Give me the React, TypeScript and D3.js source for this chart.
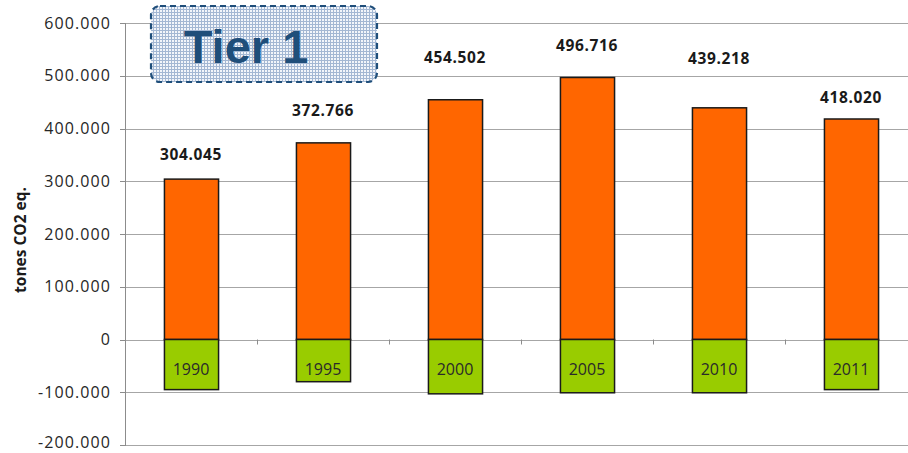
import React from "react";
import * as d3 from "d3";

const years = ["1990", "1995", "2000", "2005", "2010", "2011"];
const emissions = [304045, 372766, 454502, 496716, 439218, 418020];
const removals = [-95000, -80000, -103000, -101000, -101000, -95000];
const yTicks = [-200000, -100000, 0, 100000, 200000, 300000, 400000, 500000, 600000];
const yTitle = "tones CO2 eq.";
const badge = "Tier 1";

const W = 908;
const H = 453;
const left = 125;
const step = 132;
const top = 23;
const bottom = 445;

// manual label lifts (px between bar top and label baseline), as in the original
const labelLift = [19, 27, 37, 26, 44, 16];

const locale = d3.formatLocale({ decimal: ",", thousands: ".", grouping: [3], currency: ["", ""], minus: "-" });
const fmt = locale.format(",d");

export default function App() {
  const x = d3
    .scaleBand<string>()
    .domain(years)
    .range([left, left + step * years.length])
    .paddingInner(0.59)
    .paddingOuter(0.295);
  const y = d3.scaleLinear().domain([-200000, 600000]).range([bottom, top]);
  const y0 = y(0);
  const bw = x.bandwidth();

  return (
    <svg
      width={W}
      height={H}
      style={{ position: "absolute", left: 0, top: 0, background: "#fff" }}
      fontFamily="'Open Sans', sans-serif"
    >
      <defs>
        <pattern id="grid" width="3" height="3" patternUnits="userSpaceOnUse">
          <rect width="3" height="3" fill="#f2f5fa" />
          <rect width="3" height="1" fill="#a3b7d3" />
          <rect width="1" height="3" fill="#a3b7d3" />
        </pattern>
      </defs>
      <rect x={0} y={0} width={W} height={H} fill="#fff" />

      {/* gridlines */}
      {yTicks.map((t) => (
        <line key={t} x1={left} x2={W} y1={Math.round(y(t)) + 0.5} y2={Math.round(y(t)) + 0.5} stroke="#a6a6a6" strokeWidth={1} />
      ))}

      {/* y axis */}
      <line x1={left + 0.5} x2={left + 0.5} y1={top} y2={bottom + 1} stroke="#8c8c8c" />
      {yTicks.map((t) => (
        <g key={"t" + t}>
          <line x1={left - 5} x2={left} y1={Math.round(y(t)) + 0.5} y2={Math.round(y(t)) + 0.5} stroke="#8c8c8c" />
          <text x={111} y={Math.min(y(t) + 5.5, H - 5)} textAnchor="end" fontSize={16} letterSpacing={1.1} fill="#262626">
            {fmt(t)}
          </text>
        </g>
      ))}

      {/* category ticks */}
      {years.map((yr, i) => (
        <line
          key={"c" + yr}
          x1={left + step * (i + 1) + 0.5}
          x2={left + step * (i + 1) + 0.5}
          y1={y0}
          y2={y0 + 5}
          stroke="#8c8c8c"
        />
      ))}

      {/* bars */}
      {years.map((yr, i) => {
        const bx = x(yr)!;
        return (
          <g key={"b" + yr}>
            <rect
              x={bx + 0.5}
              y={y(emissions[i])}
              width={bw}
              height={y0 - y(emissions[i])}
              fill="#ff6600"
              stroke="#1a1a1a"
              strokeWidth={1.5}
            />
            <rect
              x={bx + 0.5}
              y={y0}
              width={bw}
              height={y(removals[i]) - y0}
              fill="#99cc00"
              stroke="#1a1a1a"
              strokeWidth={1.5}
            />
            <text x={bx + bw / 2} y={y0 + 35} textAnchor="middle" fontSize={16} fill="#2a2a2a">
              {yr}
            </text>
            <text
              x={bx + bw / 2}
              y={y(emissions[i]) - labelLift[i]}
              textAnchor="middle"
              fontSize={15.5}
              fontWeight="bold"
              letterSpacing={0.6}
              fill="#1a1a1a"
            >
              {fmt(emissions[i])}
            </text>
          </g>
        );
      })}

      {/* y title */}
      <text
        transform={`translate(26, ${(top + bottom) / 2 + 6}) rotate(-90)`}
        textAnchor="middle"
        fontSize={15.5}
        fontWeight="bold"
        fill="#1a1a1a"
      >
        {yTitle}
      </text>

      {/* badge */}
      <rect
        x={151}
        y={6}
        width={226}
        height={76}
        rx={9}
        fill="url(#grid)"
        stroke="#1f4e7a"
        strokeWidth={2.2}
        strokeDasharray="6 4"
      />
      <text
        x={246}
        y={63}
        textAnchor="middle"
        fontFamily="'Liberation Sans', Arial, sans-serif"
        fontWeight="bold"
        fontSize={47}
        fill="#1f4e7a"
      >
        {badge}
      </text>
    </svg>
  );
}
